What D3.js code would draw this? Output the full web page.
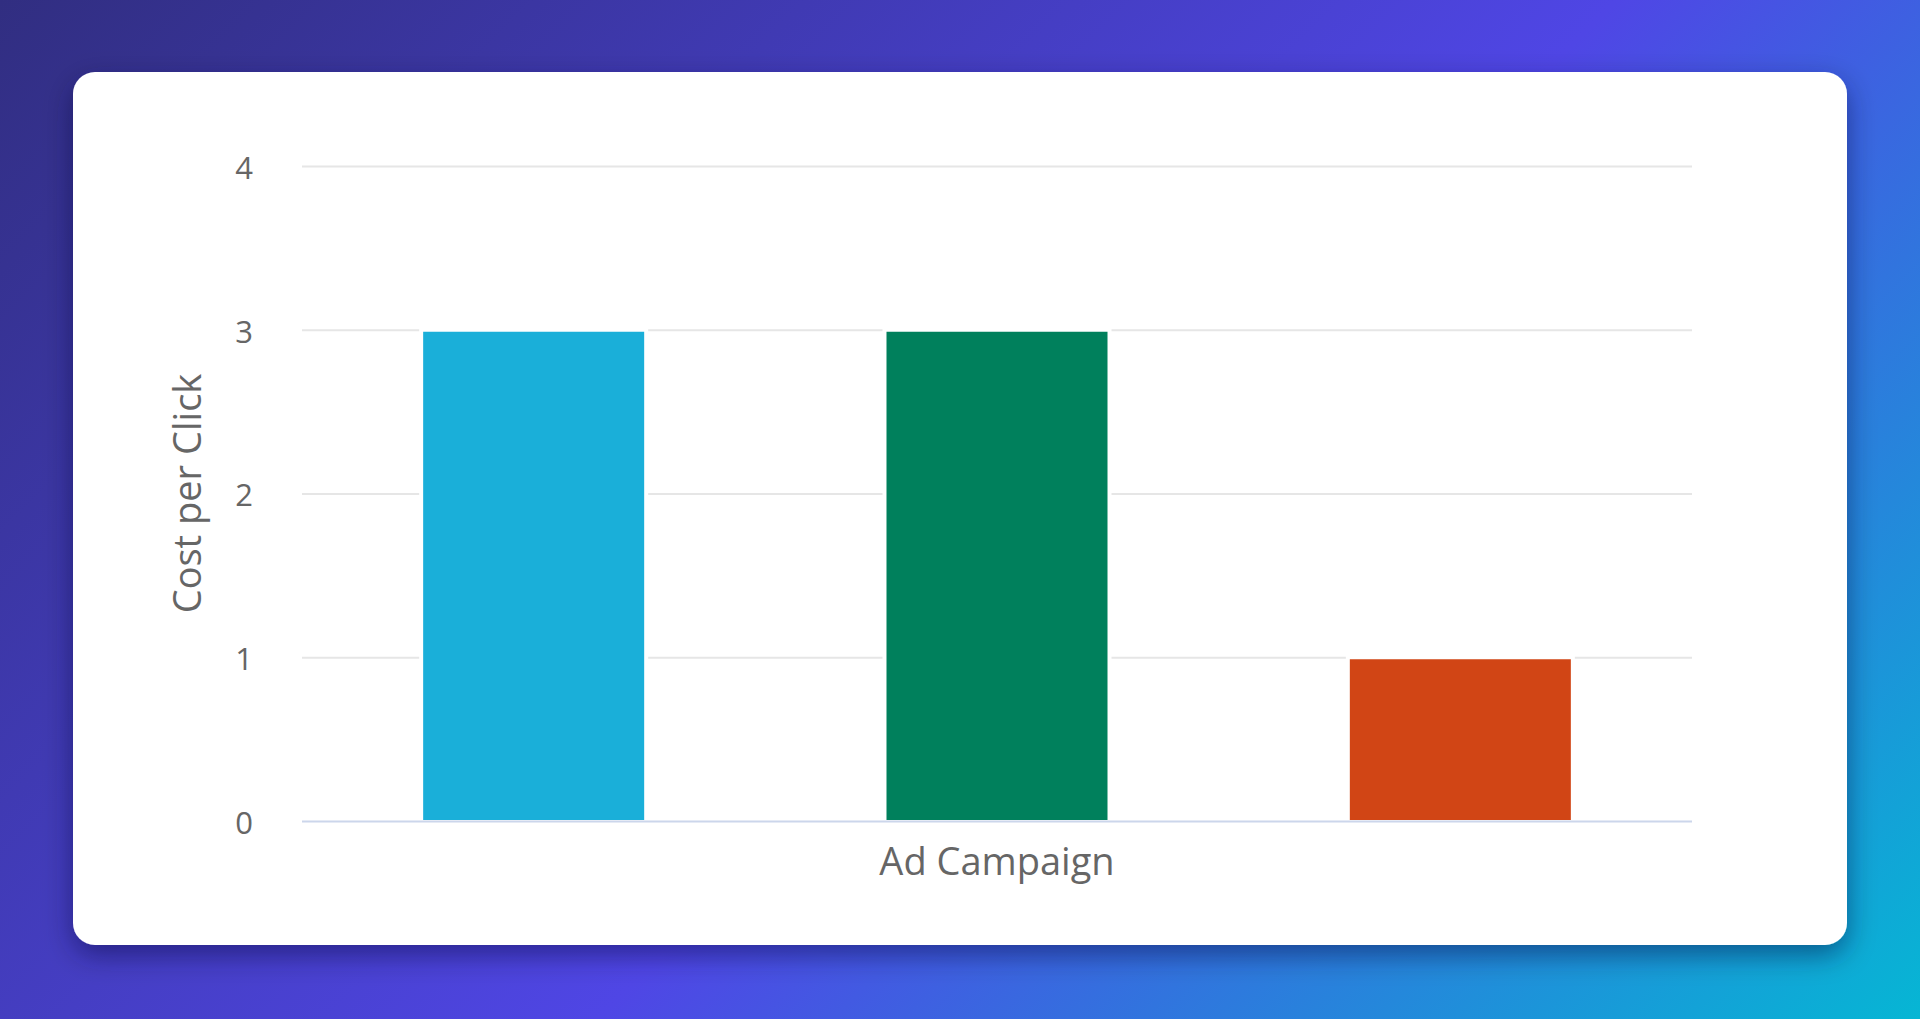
<!DOCTYPE html>
<html>
<head>
<meta charset="utf-8">
<script src="https://cdn.jsdelivr.net/npm/d3@7"></script>
<style>
  html, body { margin: 0; padding: 0; }
  body {
    width: 1920px; height: 1019px; overflow: hidden;
    background: linear-gradient(135deg, #312e81 0%, #4f46e5 55%, #06b6d4 100%);
    font-family: "Open Sans", sans-serif;
  }
  svg { display: block; }
</style>
</head>
<body>
<div id="chart"></div>
<script>
// data
const campaigns = ["Campaign A", "Campaign B", "Campaign C"]
const costPerClick = [3, 3, 1]
const yTicks = [0, 1, 2, 3, 4]
const barColors = ["#1aafd9", "#00805c", "#d14515"]

const W = 1920, H = 1019
const card = { x: 73, y: 72, w: 1774, h: 873, r: 22 }
const plot = { left: 302, right: 1692, top: 166, bottom: 821 }

const svg = d3.select("#chart").append("svg")
  .attr("width", W)
  .attr("height", H)

// card shadow
const defs = svg.append("defs")
const f = defs.append("filter").attr("id", "shadow")
  .attr("x", "-10%").attr("y", "-10%").attr("width", "120%").attr("height", "130%")
f.append("feDropShadow")
  .attr("dx", 0).attr("dy", 10).attr("stdDeviation", 14)
  .attr("flood-color", "#0b0830").attr("flood-opacity", 0.45)

svg.append("rect")
  .attr("x", card.x).attr("y", card.y)
  .attr("width", card.w).attr("height", card.h)
  .attr("rx", card.r)
  .attr("fill", "#ffffff")
  .attr("filter", "url(#shadow)")

// scales
const xScale = d3.scaleBand()
  .domain(campaigns)
  .range([plot.left, plot.right])
  .paddingInner(0.523)
  .paddingOuter(0.2615)

const yScale = d3.scaleLinear()
  .domain([0, 4])
  .range([plot.bottom, plot.top])

// grid + y labels
const yAxis = d3.axisLeft(yScale)
  .tickValues(yTicks)
  .tickSize(-(plot.right - plot.left))
  .tickPadding(49)
  .tickFormat(d3.format("d"))

const gy = svg.append("g")
  .attr("transform", `translate(${plot.left},0)`)
  .call(yAxis)
gy.select(".domain").remove()
gy.selectAll(".tick line")
  .attr("stroke", d => d === 0 ? "#ccd6eb" : "#e6e6e6")
  .attr("stroke-width", 2)
gy.selectAll(".tick text")
  .attr("fill", "#666666")
  .attr("font-family", "'Open Sans', sans-serif")
  .attr("font-size", 31)
  .attr("dy", "0.4em")

// bars with a white edge that cuts the grid lines
const bars = svg.append("g")
bars.selectAll(".halo")
  .data(costPerClick)
  .join("rect")
  .attr("class", "halo")
  .attr("x", (d, i) => xScale(campaigns[i]) - 4)
  .attr("y", d => yScale(d) - 3)
  .attr("width", xScale.bandwidth() + 8)
  .attr("height", d => yScale(0) - yScale(d) + 2)
  .attr("fill", "#ffffff")

bars.selectAll(".bar")
  .data(costPerClick)
  .join("rect")
  .attr("class", "bar")
  .attr("x", (d, i) => xScale(campaigns[i]))
  .attr("y", d => yScale(d) + 2)
  .attr("width", xScale.bandwidth())
  .attr("height", d => yScale(0) - yScale(d) - 3)
  .attr("fill", (d, i) => barColors[i])

// axis titles
svg.append("text")
  .text("Ad Campaign")
  .attr("x", (plot.left + plot.right) / 2)
  .attr("y", 875)
  .attr("text-anchor", "middle")
  .attr("fill", "#666666")
  .attr("font-size", 38)
  .attr("font-family", "'Open Sans', sans-serif")

svg.append("text")
  .text("Cost per Click")
  .attr("transform", `translate(201,${(plot.top + plot.bottom) / 2}) rotate(-90)`)
  .attr("text-anchor", "middle")
  .attr("fill", "#666666")
  .attr("font-size", 38)
  .attr("font-family", "'Open Sans', sans-serif")
</script>
</body>
</html>
